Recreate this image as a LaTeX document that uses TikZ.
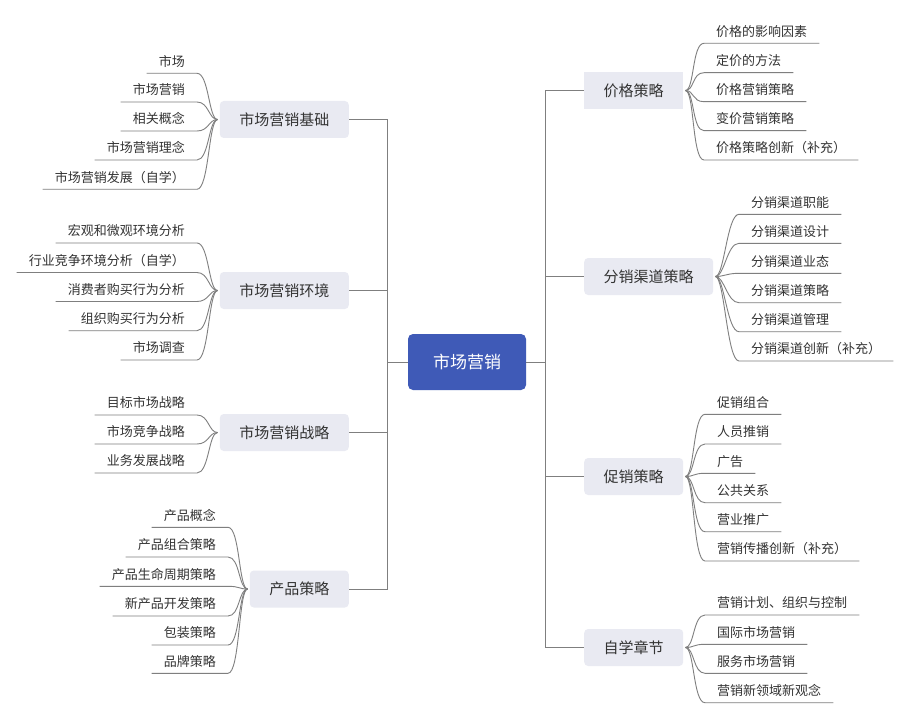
\documentclass[tikz,border=0pt]{standalone}
\usepackage{fontspec}
\newfontfamily\cjk{Noto Sans CJK SC}
\definecolor{boxfill}{HTML}{E9EAF2}
\definecolor{ctrfill}{HTML}{3F5AB7}
\definecolor{txt}{HTML}{333333}
\definecolor{linec}{HTML}{7F7F7F}
\tikzset{
  mainbox/.style={fill=boxfill, rounded corners=4pt, minimum height=37pt, inner xsep=19.5pt,
    font=\cjk\fontsize{15}{15}\selectfont, text=txt},
  ctrbox/.style={fill=ctrfill, rounded corners=5pt, minimum height=56pt, minimum width=118pt,
    font=\cjk\fontsize{17}{17}\selectfont, text=white},
  leafbase/.style={inner xsep=12pt, inner ysep=5pt, text height=11pt, text depth=2pt,
    font=\cjk\fontsize{13}{13}\selectfont, text=txt},
  leafL/.style={leafbase, anchor=south east},
  leafR/.style={leafbase, anchor=south west},
  link/.style={draw=linec, line width=0.9pt},
  spine/.style={draw=linec, line width=1pt},
}
\newcommand{\lleaf}[2]{\draw[link] (#1.west) ++(-2,0) .. controls +(-9,0) and +(12,0) .. (#2.south east) -- (#2.south west);}
\newcommand{\rleaf}[2]{\draw[link] (#1.east) ++(2,0) .. controls +(9,0) and +(-12,0) .. (#2.south west) -- (#2.south east);}
\begin{document}
\begin{tikzpicture}[x=1pt, y=-1pt]
\useasboundingbox[fill=white] (0,0) rectangle (907,722);

% centre
\node[ctrbox] (C) at (467,362) {市场营销};

% left main
\node[mainbox, anchor=east] (A1) at (349,119.5) {市场营销基础};
\node[mainbox, anchor=east] (A2) at (349,290.5) {市场营销环境};
\node[mainbox, anchor=east] (A3) at (349,432.5) {市场营销战略};
\node[mainbox, anchor=east] (A4) at (349,589) {产品策略};
% right main
\node[mainbox, anchor=west, rounded corners=0pt] (B1) at (584,90.5) {价格策略};
\node[mainbox, anchor=west] (B2) at (584,276.5) {分销渠道策略};
\node[mainbox, anchor=west] (B3) at (584,476.5) {促销策略};
\node[mainbox, anchor=west] (B4) at (584,647.5) {自学章节};

% spines
\foreach \n in {A1,A2,A3,A4} {\draw[spine] (C.west) -- ++(-20,0) |- (\n.east);}
\foreach \n in {B1,B2,B3,B4} {\draw[spine] (C.east) -- ++(19,0) |- (\n.west);}

% leaves A1
\node[leafL] (a11) at (197,73.3) {市场};
\node[leafL] (a12) at (197,102) {市场营销};
\node[leafL] (a13) at (197,131) {相关概念};
\node[leafL] (a14) at (197,160) {市场营销理念};
\node[leafL] (a15) at (197,189.3) {市场营销发展（自学）};
\foreach \l in {a11,a12,a13,a14,a15} {\lleaf{A1}{\l}}
% leaves A2
\node[leafL] (a21) at (197,243) {宏观和微观环境分析};
\node[leafL] (a22) at (197,272.5) {行业竞争环境分析（自学）};
\node[leafL] (a23) at (197,301.5) {消费者购买行为分析};
\node[leafL] (a24) at (197,330.7) {组织购买行为分析};
\node[leafL] (a25) at (197,360) {市场调查};
\foreach \l in {a21,a22,a23,a24,a25} {\lleaf{A2}{\l}}
% leaves A3
\node[leafL] (a31) at (197,415) {目标市场战略};
\node[leafL] (a32) at (197,444) {市场竞争战略};
\node[leafL] (a33) at (197,473) {业务发展战略};
\foreach \l in {a31,a32,a33} {\lleaf{A3}{\l}}
% leaves A4
\node[leafL] (a41) at (228,527.3) {产品概念};
\node[leafL] (a42) at (228,557) {产品组合策略};
\node[leafL] (a43) at (228,586.3) {产品生命周期策略};
\node[leafL] (a44) at (228,616) {新产品开发策略};
\node[leafL] (a45) at (228,645) {包装策略};
\node[leafL] (a46) at (228,673.3) {品牌策略};
\foreach \l in {a41,a42,a43,a44,a45,a46} {\lleaf{A4}{\l}}

% leaves B1
\node[leafR] (b11) at (704,43.3) {价格的影响因素};
\node[leafR] (b12) at (704,72.7) {定价的方法};
\node[leafR] (b13) at (704,101.7) {价格营销策略};
\node[leafR] (b14) at (704,130.7) {变价营销策略};
\node[leafR] (b15) at (704,160) {价格策略创新（补充）};
\foreach \l in {b11,b12,b13,b14,b15} {\rleaf{B1}{\l}}
% leaves B2
\node[leafR] (b21) at (739,214.3) {分销渠道职能};
\node[leafR] (b22) at (739,243.3) {分销渠道设计};
\node[leafR] (b23) at (739,273.3) {分销渠道业态};
\node[leafR] (b24) at (739,302.7) {分销渠道策略};
\node[leafR] (b25) at (739,331.7) {分销渠道管理};
\node[leafR] (b26) at (739,361) {分销渠道创新（补充）};
\foreach \l in {b21,b22,b23,b24,b25,b26} {\rleaf{B2}{\l}}
% leaves B3
\node[leafR] (b31) at (705,414.3) {促销组合};
\node[leafR] (b32) at (705,444) {人员推销};
\node[leafR] (b33) at (705,473.3) {广告};
\node[leafR] (b34) at (705,502.7) {公共关系};
\node[leafR] (b35) at (705,531.7) {营业推广};
\node[leafR] (b36) at (705,561) {营销传播创新（补充）};
\foreach \l in {b31,b32,b33,b34,b35,b36} {\rleaf{B3}{\l}}
% leaves B4
\node[leafR] (b41) at (705,615) {营销计划、组织与控制};
\node[leafR] (b42) at (705,644.3) {国际市场营销};
\node[leafR] (b43) at (705,673.3) {服务市场营销};
\node[leafR] (b44) at (705,702.7) {营销新领域新观念};
\foreach \l in {b41,b42,b43,b44} {\rleaf{B4}{\l}}
\end{tikzpicture}
\end{document}
